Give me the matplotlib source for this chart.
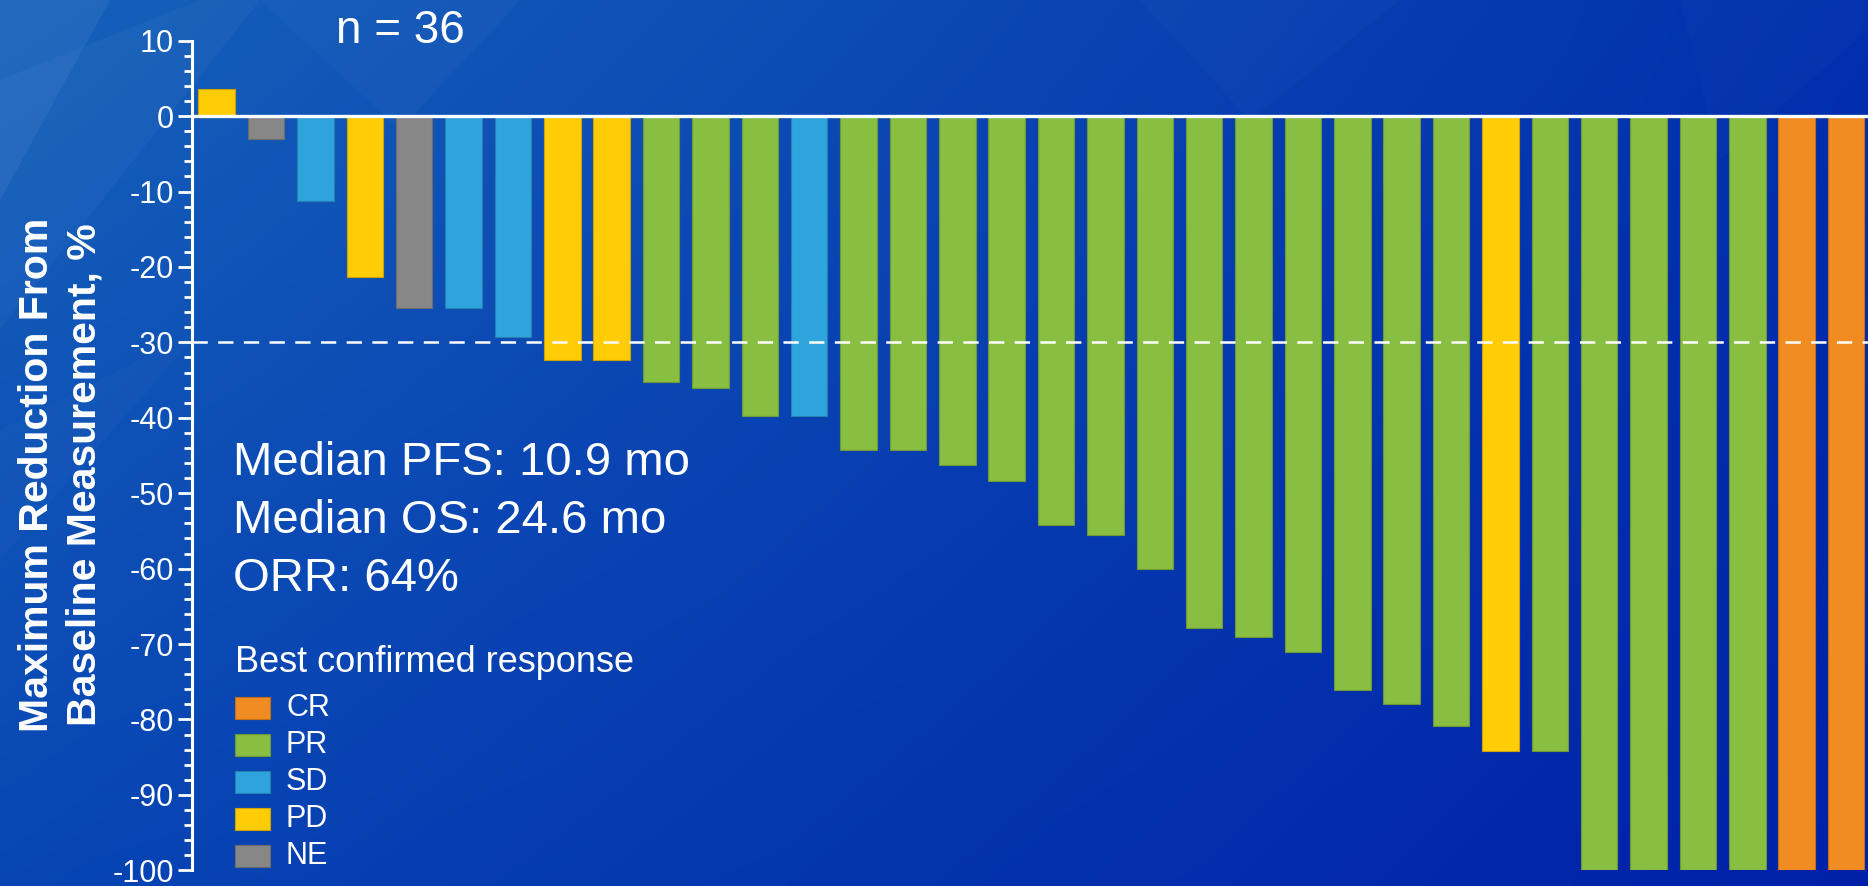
import numpy as np
import matplotlib
matplotlib.use('Agg')
import matplotlib.pyplot as plt
from matplotlib.patches import Rectangle, Polygon
from matplotlib.ticker import MultipleLocator
from matplotlib.colors import to_rgb

plt.rcParams['font.family'] = ['Liberation Sans', 'DejaVu Sans']
plt.rcParams['lines.scale_dashes'] = False

# Best change in target lesion size per patient, sorted as in the waterfall
change_pct = [3.6, -3.0, -11.3, -21.3, -25.4, -25.4, -29.3, -32.4, -32.4,
              -35.2, -36.1, -39.8, -39.8, -44.3, -44.3, -46.2, -48.4, -54.2,
              -55.5, -60.0, -67.9, -69.0, -71.1, -76.1, -78.0, -80.9, -84.2,
              -84.2, -100, -100, -100, -100, -100, -100]
response = ['PD', 'NE', 'SD', 'PD', 'NE', 'SD', 'SD', 'PD', 'PD',
            'PR', 'PR', 'PR', 'SD', 'PR', 'PR', 'PR', 'PR', 'PR',
            'PR', 'PR', 'PR', 'PR', 'PR', 'PR', 'PR', 'PR', 'PD',
            'PR', 'PR', 'PR', 'PR', 'PR', 'CR', 'CR']

legend_order = ['CR', 'PR', 'SD', 'PD', 'NE']
response_colors = {'CR': '#F08C22', 'PR': '#88BE41', 'SD': '#2EA3DC',
                   'PD': '#FFCC05', 'NE': '#878787'}
stats_lines = ['Median PFS: 10.9 mo', 'Median OS: 24.6 mo', 'ORR: 64%']
n_label = 'n = 36'

W, H = 1868, 886
fig = plt.figure(figsize=(W / 100, H / 100), dpi=100)


def fx(px):
    return px / W


def fy(py):
    # pixel rows counted from the top
    return 1 - py / H


# blue gradient backdrop
bg = fig.add_axes([0, 0, 1, 1], zorder=-10)
tl = np.array([22, 98, 186]) / 255
tr = np.array([2, 48, 174]) / 255
bl = np.array([8, 70, 180]) / 255
br = np.array([0, 32, 168]) / 255
u = np.linspace(0, 1, 400)[None, :, None]
v = np.linspace(0, 1, 200)[:, None, None]
grad = (tl * (1 - u) + tr * u) * (1 - v) + (bl * (1 - u) + br * u) * v
bg.imshow(grad, extent=[0, W, H, 0], aspect='auto', interpolation='bilinear')
facets = [
    [(0, 0), (110, 0), (0, 200)],
    [(0, 80), (200, 0), (260, 0), (0, 330)],
    [(260, 0), (520, 0), (400, 130)],
    [(0, 430), (200, 330), (0, 560)],
    [(1140, 0), (1400, 0), (1250, 120)],
    [(1680, 0), (1868, 0), (1868, 30), (1720, 160)],
]
for pts, a in zip(facets, [0.06, 0.03, 0.025, 0.02, 0.02, 0.015]):
    bg.add_patch(Polygon(pts, closed=True, facecolor='white', alpha=a, lw=0))
bg.set_xlim(0, W)
bg.set_ylim(H, 0)
bg.axis('off')

# waterfall axes
ax = fig.add_axes([fx(191.7), fy(870.3), 1 - fx(191.7), fy(40.7) - fy(870.3)])
ax.patch.set_alpha(0)

x = np.arange(len(change_pct))
colors = [response_colors[r] for r in response]
edges = [tuple(c * 0.8 for c in to_rgb(col)) for col in colors]
ax.bar(x, change_pct, width=0.74, color=colors, edgecolor=edges,
       linewidth=0.8, zorder=2)

ax.axhline(0, color='white', lw=2.4, zorder=3)
ax.axhline(-30, color='white', lw=1.8, dashes=(11, 7.5), zorder=3)

ax.set_xlim(-0.506, len(change_pct) - 0.555)
for side in ['top', 'right', 'bottom']:
    ax.spines[side].set_visible(False)
ax.spines['left'].set_color('white')
ax.spines['left'].set_linewidth(2.2)
ax.set_xticks([])
ax.yaxis.set_major_locator(MultipleLocator(10))
ax.yaxis.set_minor_locator(MultipleLocator(2))
ax.tick_params(axis='y', which='major', colors='white', length=10, width=2,
               labelsize=22, pad=3)
ax.tick_params(axis='y', which='minor', colors='white', length=5.5, width=2)
ax.set_ylim(-100, 10)
ax.set_yticks(np.arange(-100, 11, 10))
ax.set_yticklabels([f'{t}' for t in np.arange(-100, 11, 10)])

# axis title, two lines
fig.text(fx(48), fy(475), 'Maximum Reduction From', rotation=90,
         rotation_mode='anchor', ha='center', va='baseline', color='white',
         fontsize=29.5, fontweight='bold')
fig.text(fx(96), fy(475), 'Baseline Measurement, %', rotation=90,
         rotation_mode='anchor', ha='center', va='baseline', color='white',
         fontsize=29.5, fontweight='bold')

fig.text(fx(400), fy(43), n_label, ha='center', va='baseline',
         color='white', fontsize=33)

for i, line in enumerate(stats_lines):
    fig.text(fx(233), fy(475 + 58 * i), line, ha='left', va='baseline',
             color='white', fontsize=34)

# legend
fig.text(fx(235), fy(662), 'Best confirmed response', ha='left',
         va='center', color='white', fontsize=26)
for i, key in enumerate(legend_order):
    cy = 708 + 37 * i
    fig.patches.append(Rectangle((fx(235), fy(cy + 11)), fx(35), 22 / H,
                                 transform=fig.transFigure,
                                 facecolor=response_colors[key],
                                 edgecolor=tuple(c * 0.8 for c in to_rgb(response_colors[key])),
                                 lw=0.8))
    fig.text(fx(286), fy(cy), key, ha='left', va='center', color='white',
             fontsize=22)

fig.savefig('out.png', dpi=100)
